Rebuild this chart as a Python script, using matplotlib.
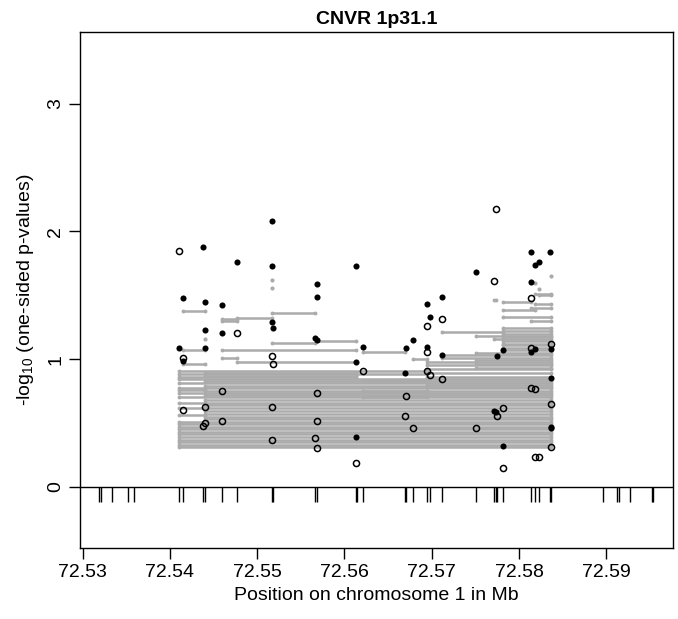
import numpy as np
import matplotlib
matplotlib.use("Agg")
import matplotlib.pyplot as plt

plt.rcParams['font.family'] = ['Liberation Sans', 'DejaVu Sans']
plt.rcParams['mathtext.default'] = 'regular'

# probe positions (Mb) shown in the rug under the zero line
probe_x = [72.53183, 72.53206, 72.53340, 72.53519, 72.53588, 72.54100, 72.54150,
           72.54375, 72.54398, 72.54601, 72.54768, 72.55166, 72.55183, 72.55659,
           72.55682, 72.56129, 72.56146, 72.56213, 72.56691, 72.56708, 72.56786,
           72.56951, 72.56977, 72.57123, 72.57512, 72.57716, 72.57739, 72.57751,
           72.57817, 72.58135, 72.58181, 72.58227, 72.58352, 72.58370, 72.58963,
           72.59126, 72.59143, 72.59269, 72.59521, 72.59539]

# filled points: probe index, -log10 p
black_idx = [5, 6, 6, 7, 8, 8, 8, 9, 9, 10, 11, 11, 11, 12, 13, 14, 14, 14,
             15, 15, 15, 17, 18, 19, 20, 21, 21, 22, 23, 23, 24, 25, 26, 27,
             28, 28, 29, 29, 29, 30, 30, 31, 32, 33, 33, 33, 33]
black_y = [1.09, 1.475, 0.987, 1.88, 1.446, 1.225, 1.089, 1.425, 1.206, 1.76,
           2.083, 1.728, 1.292, 1.245, 1.162, 1.585, 1.483, 1.149,
           1.728, 0.974, 0.392, 1.096, 0.89, 1.084, 1.146, 1.433, 1.096, 1.329,
           1.483, 1.029, 1.684, 0.595, 0.585, 1.023,
           1.07, 0.319, 1.843, 1.605, 1.057, 1.736, 1.078, 1.762, 1.843,
           1.08, 0.849, 0.467, 0.457]

# open points: probe index, -log10 p
open_idx = [5, 6, 6, 8, 8, 7, 9, 9, 10, 11, 11, 11, 12, 13, 14, 14, 14, 15,
            17, 18, 19, 20, 21, 21, 21, 22, 23, 23, 24, 25, 26, 27, 28, 28,
            29, 29, 29, 30, 30, 31, 33, 33, 33]
open_y = [1.846, 1.01, 0.60, 0.627, 0.496, 0.475, 0.749, 0.517, 1.206, 1.023,
          0.622, 0.366, 0.963, 0.379, 0.731, 0.517, 0.30, 0.183,
          0.906, 0.556, 0.713, 0.457, 1.261, 1.055, 0.904, 0.877, 1.311, 0.843,
          0.457, 1.611, 2.18, 0.553, 0.616, 0.149,
          1.48, 1.09, 0.775, 0.765, 0.23, 0.235, 1.117, 0.645, 0.313]

# lone grey points
grey_idx = [11, 11, 33, 8, 31, 30]
grey_y = [1.62, 1.56, 1.65, 1.16, 1.55, 1.60]

# grey segments: from probe, to probe, level
seg_from = [6, 9, 10, 11, 9, 14, 11, 6, 9, 9, 10, 6, 17, 20,
            25, 28, 30, 31, 28, 28, 29, 28, 23, 24, 25, 28, 29, 30,
            # dense base
            5, 5, 5, 5, 5, 5, 5, 5, 5, 5, 5,
            8, 8, 8, 8, 8, 8, 8, 8,
            5, 5, 5, 5,
            5, 5, 5, 5, 5, 5, 5, 5,
            8, 8, 8, 8, 8, 8,
            21, 21, 21, 21, 21, 21, 21, 21, 21, 21, 23, 23,
            17, 17, 17,
            24, 24, 24, 24, 28, 28, 28, 28, 28, 28, 28]
seg_to = [8, 10, 11, 13, 10, 15, 13, 8, 15, 10, 15, 8, 18, 21,
          26, 29, 33, 33, 30, 33, 33, 33, 28, 33, 33, 33, 33, 33,
          33, 33, 33, 33, 33, 33, 33, 33, 33, 33, 33,
          33, 33, 33, 33, 33, 33, 33, 33,
          8, 8, 8, 8,
          33, 33, 33, 33, 33, 21, 21, 15,
          21, 21, 21, 21, 15, 15,
          33, 33, 33, 33, 33, 33, 33, 33, 33, 33, 33, 33,
          21, 21, 21,
          33, 33, 33, 33, 33, 33, 33, 33, 33, 33, 33]
seg_y = [1.38, 1.313, 1.323, 1.363, 1.30, 1.143, 1.128, 1.07, 1.07, 1.01, 0.98, 0.96, 1.052, 1.0,
         1.46, 1.449, 1.51, 1.50, 1.384, 1.33, 1.30, 1.24, 1.209, 1.18, 1.16, 1.12, 1.40, 1.43,
         0.31, 0.33, 0.35, 0.37, 0.39, 0.41, 0.43, 0.45, 0.47, 0.49, 0.51,
         0.53, 0.55, 0.57, 0.59, 0.62, 0.64, 0.66, 0.68,
         0.56, 0.62, 0.66, 0.76,
         0.70, 0.735, 0.77, 0.81, 0.845, 0.88, 0.905, 0.86,
         0.715, 0.75, 0.79, 0.825, 0.865, 0.89,
         0.72, 0.75, 0.78, 0.80, 0.83, 0.86, 0.89, 0.92, 0.95, 0.98, 1.01, 1.03,
         0.83, 0.75, 0.70,
         0.93, 0.96, 0.99, 1.05, 1.07, 1.09, 1.11, 1.14, 1.17, 1.20, 1.22]

grey = '#ababab'
px = np.array(probe_x)

fig = plt.figure(figsize=(6.78, 6.19), dpi=100)
ax = fig.add_axes([0.118, 0.1147, 0.874, 0.833])

x0 = px[seg_from]
x1 = px[seg_to]
ax.hlines(seg_y, x0, x1, colors=grey, lw=1.8, zorder=1)
ax.plot(np.r_[x0, x1], np.r_[seg_y, seg_y], 'o', color=grey, ms=2.8, mew=0, zorder=1)
ax.plot(px[grey_idx], grey_y, 'o', color=grey, ms=3, mew=0, zorder=1)

ax.plot(px[black_idx], black_y, 'o', color='black', ms=4.4, mew=0, zorder=3)
ax.plot(px[open_idx], open_y, 'o', mfc='none', mec='black', ms=4.4, mew=1.1, zorder=3)

ax.axhline(0, color='black', lw=1, zorder=2)
ax.vlines(probe_x, -0.12, 0, colors='black', lw=1, zorder=2)

ax.set_xlim(72.5297, 72.5976)
ax.set_ylim(-0.48, 3.56)
xt = [72.53, 72.54, 72.55, 72.56, 72.57, 72.58, 72.59]
ax.set_xticks(xt)
ax.set_xticklabels(['%.2f' % v for v in xt], fontsize=14)
ax.set_yticks([0, 1, 2, 3])
ax.set_yticklabels(['0', '1', '2', '3'], fontsize=14, rotation=90, va='center')
ax.tick_params(length=8, width=1)
for s in ax.spines.values():
    s.set_linewidth(1)

ax.set_xlabel('Position on chromosome 1 in Mb', fontsize=14, labelpad=4)
ax.set_ylabel('-log$_{10}$ (one-sided p-values)', fontsize=14, labelpad=8)
ax.set_title('CNVR 1p31.1', fontsize=14, fontweight='bold', pad=6)

fig.savefig('out.png', dpi=100)
